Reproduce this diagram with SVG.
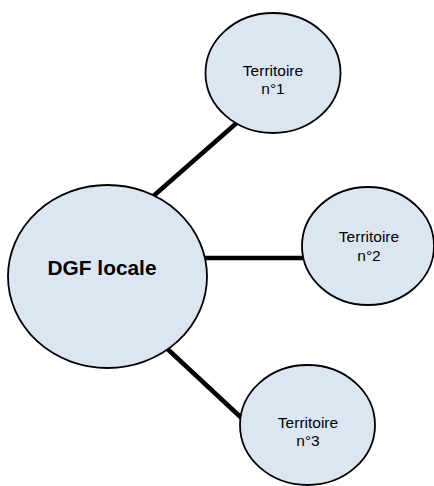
<svg xmlns="http://www.w3.org/2000/svg" width="434" height="486" viewBox="0 0 434 486">
<style>
.node{fill:#dce6f2;stroke:#000;stroke-width:1.8}
.conn{stroke:#000;stroke-width:4.5;stroke-linecap:butt}
.t{font-family:"Liberation Sans",Arial,sans-serif;font-size:15.5px;fill:#000;text-anchor:middle}
.main{font-family:"Liberation Sans",Arial,sans-serif;font-size:20px;font-weight:bold;fill:#000;text-anchor:middle}
</style>
<rect width="434" height="486" fill="#fff"/>
<g id="connectors">
<line class="conn" x1="150" y1="199" x2="240" y2="120"/>
<line class="conn" x1="200" y1="258" x2="310" y2="258"/>
<line class="conn" x1="160" y1="342" x2="248" y2="424"/>
</g>
<g id="dgf">
<ellipse class="node" cx="107.5" cy="276.5" rx="99.5" ry="91.5"/>
<text class="main" x="102" y="275" textLength="109" lengthAdjust="spacingAndGlyphs">DGF locale</text>
</g>
<g id="t1">
<ellipse class="node" cx="273" cy="73" rx="67.5" ry="60"/>
<text class="t" x="273" y="76">Territoire</text>
<text class="t" x="273" y="93.5">n°1</text>
</g>
<g id="t2">
<ellipse class="node" cx="368" cy="246" rx="66" ry="59"/>
<text class="t" x="369" y="242">Territoire</text>
<text class="t" x="369" y="261">n°2</text>
</g>
<g id="t3">
<ellipse class="node" cx="307.5" cy="425" rx="67.5" ry="60"/>
<text class="t" x="308" y="428">Territoire</text>
<text class="t" x="308" y="446">n°3</text>
</g>
</svg>
